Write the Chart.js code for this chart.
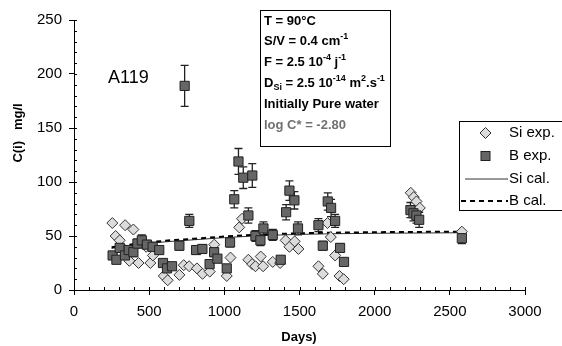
<!DOCTYPE html>
<html>
<head>
<meta charset="utf-8">
<script src="https://cdn.jsdelivr.net/npm/chart.js@4"></script>
<style>
  body { margin: 0; background: #fff; }
  #chart { display: block; }
</style>
</head>
<body>
<canvas id="chart" width="562" height="346"></canvas>
<script>
// ── Data (days, mg/l) ─────────────────────────────────────────────
const siDays = [255, 340, 395, 277, 304, 368, 429, 508, 480, 525, 597, 623, 701, 730, 766, 818, 855, 903, 933,
    1016, 1041, 1099, 1118, 1160, 1185, 1207, 1242, 1258, 1322, 1371, 1408, 1433, 1468, 1493,
    1626, 1655, 1686, 1708, 1737, 1766, 1794, 2240, 2260, 2278, 2300, 2580];
const siValues = [62, 60, 56, 50, 46, 27, 25, 25, 40, 32, 13, 9, 14, 23, 22, 20, 15, 17, 42,
    13, 30, 58, 66, 28, 24, 22, 31, 22, 26, 25, 46, 40, 45, 38,
    22, 15, 62, 49, 32, 13, 10, 90, 86, 82, 76, 54];

const bDays = [257, 282, 304, 339, 364, 395, 422, 451, 485, 523, 567, 592, 619, 652, 701, 736, 767, 812, 854,
    902, 932, 954, 1016, 1038, 1066, 1094, 1126, 1186, 1160, 1207, 1240, 1260, 1322, 1375,
    1411, 1433, 1466, 1490, 1626, 1688, 1710, 1737, 1655, 1770, 1796, 2238, 2258, 2278, 2296, 2580];
const bValues = [32, 28, 39, 32, 37, 35, 43, 46, 42, 40, 37, 25, 20, 22, 41, 189, 64, 37, 38,
    24, 35, 29, 20, 44, 84, 119, 104, 106, 69, 50, 46, 57, 51, 28,
    72, 92, 83, 57, 60, 82, 76, 64, 41, 39, 26, 74, 71, 69, 65, 48];
const bErrors = [3, 3, 4, 3, 4, 4, 4, 5, 4, 4, 4, 3, 2, 2, 4, 19, 6, 4, 4,
    2, 4, 3, 2, 4, 8, 12, 10, 11, 7, 5, 5, 6, 5, 3,
    7, 9, 8, 6, 6, 8, 8, 6, 4, 4, 3, 7, 7, 7, 7, 5];

const calDays = [250, 400, 600, 800, 1000, 1200, 1500, 2000, 2590];
const siCal = [38.5, 41.5, 44.5, 46.5, 48.5, 50, 51.5, 52.5, 53];
const bCal = [39.5, 42.5, 45.5, 47.5, 49.5, 51, 52.5, 53.5, 54];

const xTicks = [0, 500, 1000, 1500, 2000, 2500, 3000];
const yTicks = [0, 50, 100, 150, 200, 250];

const FONT = "'Liberation Sans', Arial, sans-serif";
const pts = (xs, ys) => xs.map((x, i) => ({ x, y: ys[i] }));

// ── Error bars behind the B markers ───────────────────────────────
const errorBars = {
    id: 'errorBars',
    beforeDatasetsDraw(chart) {
        const { ctx, scales: { x, y } } = chart;
        ctx.save();
        ctx.strokeStyle = '#222';
        ctx.lineWidth = 1.3;
        bDays.forEach((d, i) => {
            const px = x.getPixelForValue(d);
            const top = y.getPixelForValue(bValues[i] + bErrors[i]);
            const bot = y.getPixelForValue(bValues[i] - bErrors[i]);
            ctx.beginPath();
            ctx.moveTo(px, top); ctx.lineTo(px, bot);
            ctx.moveTo(px - 4, top); ctx.lineTo(px + 4, top);
            ctx.moveTo(px - 4, bot); ctx.lineTo(px + 4, bot);
            ctx.stroke();
        });
        ctx.restore();
    }
};

// ── Minor ticks, titles, annotation box, legend ───────────────────
function drawRich(ctx, x, y, parts, size) {
    parts.forEach(p => {
        const s = p.sup || p.sub ? Math.round(size * 0.7) : size;
        ctx.font = `bold ${s}px ${FONT}`;
        const dy = p.sup ? -5 : p.sub ? 4 : 0;
        ctx.fillText(p.t, x, y + dy);
        x += ctx.measureText(p.t).width;
    });
}

const decorations = {
    id: 'decorations',
    afterDraw(chart) {
        const { ctx, scales: { x, y }, chartArea: a } = chart;
        ctx.save();
        ctx.strokeStyle = '#000';
        ctx.lineWidth = 1;
        ctx.beginPath();
        for (let v = 0; v <= 3000; v += 100) {
            const px = Math.round(x.getPixelForValue(v)) + 0.5;
            ctx.moveTo(px, a.bottom); ctx.lineTo(px, a.bottom - 3);
        }
        for (let v = 0; v <= 250; v += 10) {
            const py = Math.round(y.getPixelForValue(v)) + 0.5;
            ctx.moveTo(a.left, py); ctx.lineTo(a.left + 3, py);
        }
        ctx.stroke();

        ctx.fillStyle = '#000';
        ctx.textBaseline = 'middle';
        ctx.textAlign = 'center';
        ctx.font = `bold 13px ${FONT}`;
        ctx.fillText('Days)', 299, 337);
        ctx.save();
        ctx.translate(18, 133);
        ctx.rotate(-Math.PI / 2);
        ctx.fillText('C(i)   mg/l', 0, 0);
        ctx.restore();

        ctx.textAlign = 'left';
        ctx.font = `18px ${FONT}`;
        ctx.fillText('A119', 108, 78);

        // annotation box
        ctx.fillStyle = '#fff';
        ctx.fillRect(260.5, 10.5, 130, 136);
        ctx.strokeRect(260.5, 10.5, 130, 136);
        ctx.fillStyle = '#000';
        const lines = [
            [{ t: 'T = 90°C' }],
            [{ t: 'S/V = 0.4 cm' }, { t: '-1', sup: 1 }],
            [{ t: 'F = 2.5 10' }, { t: '-4', sup: 1 }, { t: ' j' }, { t: '-1', sup: 1 }],
            [{ t: 'D' }, { t: 'Si', sub: 1 }, { t: ' = 2.5 10' }, { t: '-14', sup: 1 }, { t: ' m' }, { t: '2', sup: 1 }, { t: '.s' }, { t: '-1', sup: 1 }],
            [{ t: 'Initially Pure water' }]
        ];
        lines.forEach((l, i) => drawRich(ctx, 264, 21 + i * 20.8, l, 13));
        ctx.fillStyle = '#707070';
        drawRich(ctx, 264, 21 + 5 * 20.8, [{ t: 'log C* = -2.80' }], 13);

        // legend
        ctx.fillStyle = '#fff';
        ctx.fillRect(459.5, 121.5, 110, 89);
        ctx.strokeStyle = '#000';
        ctx.strokeRect(459.5, 121.5, 110, 89);
        const ly = [133, 156, 179, 201];
        ctx.lineWidth = 1;
        ctx.fillStyle = '#dcdcdc';
        ctx.strokeStyle = '#333';
        ctx.beginPath();
        ctx.moveTo(485.5, ly[0] - 5.5); ctx.lineTo(491, ly[0]); ctx.lineTo(485.5, ly[0] + 5.5); ctx.lineTo(480, ly[0]);
        ctx.closePath(); ctx.fill(); ctx.stroke();
        ctx.fillStyle = '#666';
        ctx.strokeStyle = '#222';
        ctx.fillRect(481, ly[1] - 4.5, 9, 9); ctx.strokeRect(481, ly[1] - 4.5, 9, 9);
        ctx.strokeStyle = '#333';
        ctx.beginPath(); ctx.moveTo(465, ly[2]); ctx.lineTo(508, ly[2]); ctx.stroke();
        ctx.strokeStyle = '#000';
        ctx.lineWidth = 2;
        ctx.setLineDash([5, 4]);
        ctx.beginPath(); ctx.moveTo(461, ly[3]); ctx.lineTo(508, ly[3]); ctx.stroke();
        ctx.setLineDash([]);
        ctx.fillStyle = '#000';
        ctx.font = `15px ${FONT}`;
        ['Si exp.', 'B exp.', 'Si cal.', 'B cal.'].forEach((t, i) => ctx.fillText(t, 509, ly[i]));
        ctx.restore();
    }
};

new Chart(document.getElementById('chart'), {
    type: 'scatter',
    data: {
        datasets: [
            {
                label: 'B exp.', data: pts(bDays, bValues), order: 0,
                pointStyle: 'rect', pointRadius: 6.5, backgroundColor: '#666', borderColor: '#222', borderWidth: 1
            },
            {
                label: 'Si exp.', data: pts(siDays, siValues), order: 1,
                pointStyle: 'rectRot', pointRadius: 5.5, backgroundColor: '#dcdcdc', borderColor: '#333', borderWidth: 1
            },
            {
                label: 'Si cal.', data: pts(calDays, siCal), order: 3, showLine: true,
                pointRadius: 0, borderColor: '#333', borderWidth: 1, cubicInterpolationMode: 'monotone'
            },
            {
                label: 'B cal.', data: pts(calDays, bCal), order: 2, showLine: true,
                pointRadius: 0, borderColor: '#000', borderWidth: 2, borderDash: [5, 4], cubicInterpolationMode: 'monotone'
            }
        ]
    },
    options: {
        responsive: false,
        animation: false,
        layout: { padding: { top: 20, right: 37, left: 0, bottom: 0 } },
        plugins: { legend: { display: false }, tooltip: { enabled: false } },
        scales: {
            x: {
                min: 0, max: 3000,
                afterFit: s => { s.height = 56; },
                afterBuildTicks: s => { s.ticks = xTicks.map(v => ({ value: v })); },
                ticks: { color: '#000', font: { family: FONT, size: 15 }, padding: 8, maxRotation: 0, callback: v => String(v) },
                grid: { drawOnChartArea: false, drawTicks: true, tickLength: 5, color: '#000' },
                border: { color: '#000', width: 1 }
            },
            y: {
                min: 0, max: 250,
                afterFit: s => { s.width = 74; },
                afterBuildTicks: s => { s.ticks = yTicks.map(v => ({ value: v })); },
                ticks: { color: '#000', font: { family: FONT, size: 15 }, padding: 7, callback: v => String(v) },
                grid: { drawOnChartArea: false, drawTicks: true, tickLength: 5, color: '#000' },
                border: { color: '#000', width: 1 }
            }
        }
    },
    plugins: [errorBars, decorations]
});
</script>
</body>
</html>
